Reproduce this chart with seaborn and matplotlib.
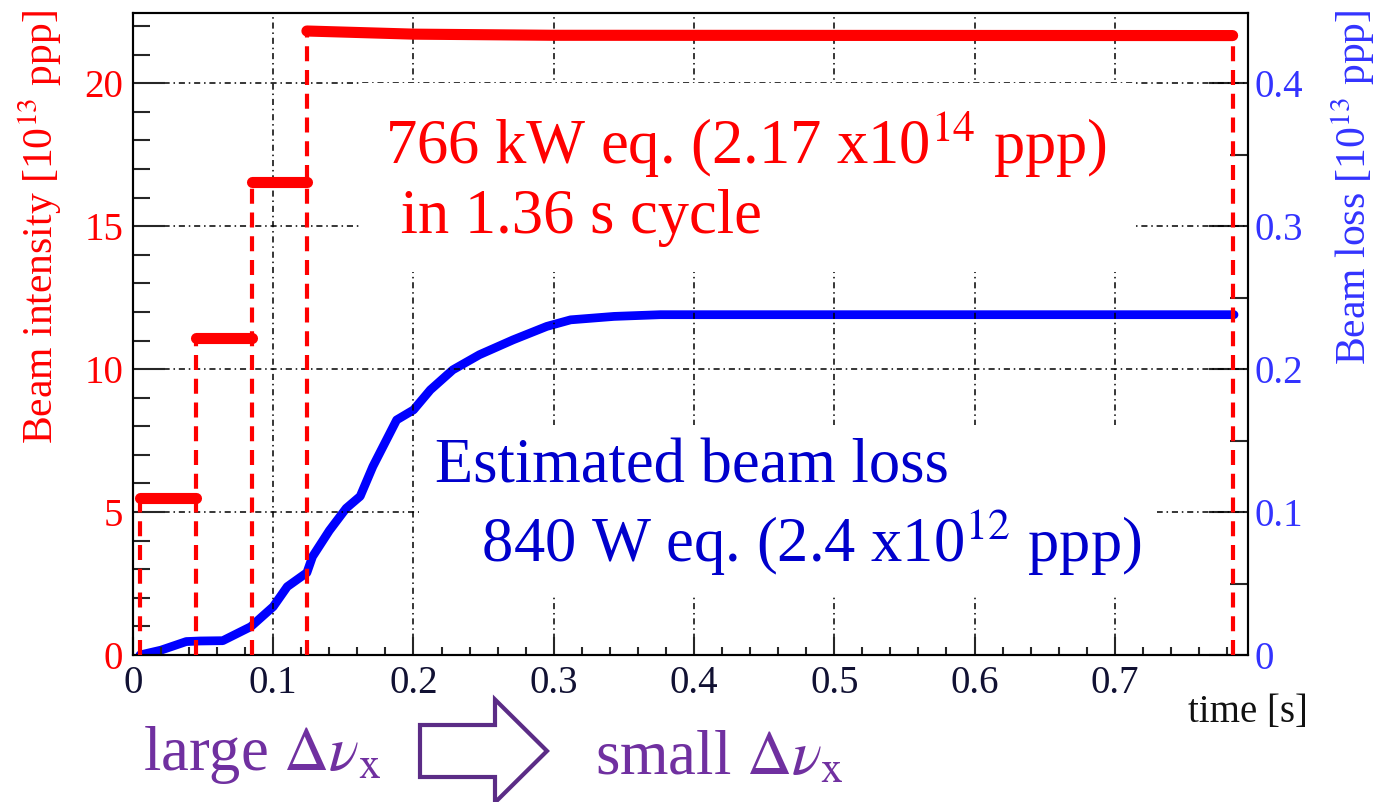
import matplotlib

matplotlib.use("Agg")
import matplotlib.pyplot as plt  # noqa: E402
import pandas as pd  # noqa: E402
import seaborn as sns  # noqa: E402
from matplotlib.patches import FancyArrow  # noqa: E402
from matplotlib.ticker import FuncFormatter, MultipleLocator  # noqa: E402

# beam intensity steps [1e13 ppp] (left axis)
int_step = [1, 1, 2, 2, 3, 3, 4, 4, 4, 4]
int_t = [0.005, 0.045, 0.045, 0.085, 0.085, 0.124, 0.124, 0.200, 0.300, 0.784]
int_val = [5.5, 5.5, 11.1, 11.1, 16.56, 16.56, 21.83, 21.72, 21.68, 21.67]

# red dashed markers at step changes
cut_t = [0.005, 0.045, 0.085, 0.124, 0.784]
cut_top = [5.5, 11.1, 16.56, 21.83, 21.67]

# estimated beam loss [1e13 ppp] (right axis)
loss_t = [0.005, 0.020, 0.038, 0.048, 0.064, 0.084, 0.100, 0.110, 0.124, 0.128,
          0.140, 0.152, 0.162, 0.171, 0.188, 0.200, 0.212, 0.228, 0.247, 0.271,
          0.295, 0.312, 0.343, 0.376, 0.500, 0.650, 0.785]
loss_val = [0.000, 0.0034, 0.0094, 0.0098, 0.0100, 0.0198, 0.0338, 0.0478, 0.0576, 0.0688,
            0.0870, 0.1026, 0.1110, 0.1318, 0.1644, 0.1714, 0.1854, 0.1994, 0.2100, 0.2204,
            0.2298, 0.2344, 0.2368, 0.2380, 0.2380, 0.2380, 0.2380]

int_df = pd.DataFrame({"step": int_step, "t": int_t, "intensity": int_val})
loss_df = pd.DataFrame({"t": loss_t, "loss": loss_val})

sns.set_style("white")
plt.rcParams["font.family"] = ["Liberation Serif", "DejaVu Serif"]
plt.rcParams["mathtext.fontset"] = "stix"

fig = plt.figure(figsize=(13.78, 8.02), dpi=100)
ax = fig.add_axes([0.0965, 0.1833, 0.8092, 0.8005])
ax2 = ax.twinx()
ax.set_zorder(ax2.get_zorder() + 1)
ax.patch.set_visible(False)

sns.lineplot(data=loss_df, x="t", y="loss", ax=ax2, color="#0000ff", lw=6.3,
             estimator=None, sort=False, legend=False, solid_capstyle="round")
sns.lineplot(data=int_df, x="t", y="intensity", units="step", estimator=None,
             sort=False, color="#ff0000", lw=8, solid_capstyle="round",
             legend=False, ax=ax)
ax.vlines(cut_t, 0, cut_top, colors="#ff0000", linestyles=(0, (3.6, 2.1)),
          lw=3, zorder=3)

ax.set_xlim(0, 0.795)
ax.set_ylim(0, 22.46)
ax2.set_ylim(0, 0.449)

ax.grid(True, which="major", color="black", lw=1.1, linestyle=(0, (4, 2.5, 1, 2.5)))
ax2.grid(False)

fmt = FuncFormatter(lambda v, _: "0" if abs(v) < 1e-9 else f"{v:g}")
ax.xaxis.set_major_locator(MultipleLocator(0.1))
ax.xaxis.set_minor_locator(MultipleLocator(0.02))
ax.yaxis.set_major_locator(MultipleLocator(5))
ax.yaxis.set_minor_locator(MultipleLocator(1))
ax2.yaxis.set_major_locator(MultipleLocator(0.1))
ax2.yaxis.set_minor_locator(MultipleLocator(0.05))
ax.xaxis.set_major_formatter(fmt)
ax.yaxis.set_major_formatter(fmt)
ax2.yaxis.set_major_formatter(fmt)

ax.tick_params(axis="x", which="major", direction="in", length=13, width=1.5,
               top=False, bottom=True, labelsize=28, pad=7, labelcolor="#111133")
ax.tick_params(axis="x", which="minor", direction="in", length=6, width=1.5,
               top=False, bottom=True)
ax.tick_params(axis="y", which="major", direction="in", length=23, width=1.5,
               left=True, right=False, labelsize=28, pad=7, labelcolor="#ff0000")
ax.tick_params(axis="y", which="minor", direction="in", length=12, width=1.5,
               left=True, right=False)
ax2.tick_params(axis="y", which="major", direction="in", length=28, width=1.5,
                left=False, right=True, labelsize=28, pad=5, labelcolor="#3333ff")
ax2.tick_params(axis="y", which="minor", direction="in", length=13, width=1.5,
                left=False, right=True)

for a in (ax, ax2):
    for s in a.spines.values():
        s.set_color("black")
        s.set_linewidth(1.5)
        s.set_visible(True)

ax.set_ylabel("Beam intensity [10$^{13}$ ppp]", color="#ff0000", fontsize=30,
              rotation=90, ha="right", va="center", rotation_mode="anchor")
ax.yaxis.set_label_coords(-0.083, 1.005)
ax2.set_ylabel("Beam loss [10$^{13}$ ppp]", color="#3333ff", fontsize=30,
               rotation=90, ha="right", va="center", rotation_mode="anchor")
ax2.yaxis.set_label_coords(1.094, 1.005)
ax.set_xlabel("time [s]", fontsize=28, ha="right", va="center", color="#111111")
ax.xaxis.set_label_coords(1.054, -0.09)

# multi-line text: baseline anchors the last line
red_box = dict(boxstyle="square,pad=0.4", facecolor="white", edgecolor="none")
blue_box = dict(boxstyle="square,pad=0.25", facecolor="white", edgecolor="none")
ax.text(0.18, 14.77, "766 kW eq. (2.17 x10$^{14}$ ppp)\n in 1.36 s cycle",
        color="#ff0000", fontsize=45, va="baseline", linespacing=1.2,
        bbox=red_box, zorder=2.5)
ax.text(0.2154, 3.25, "Estimated beam loss\n   840 W eq. (2.4 x10$^{12}$ ppp)",
        color="#0000cc", fontsize=45, va="baseline", linespacing=1.2,
        bbox=blue_box, zorder=2.5)

purple = "#7030a0"
fig.text(0.1038, 0.040, r"large $\Delta\nu_{\mathrm{x}}$", color=purple,
         fontsize=45, va="baseline")
fig.text(0.4318, 0.0337, r"small $\Delta\nu_{\mathrm{x}}$", color=purple,
         fontsize=45, va="baseline")
arrow = FancyArrow(4.20, 0.51, 1.27, 0, width=0.52, head_width=1.03,
                   head_length=0.52, length_includes_head=True,
                   transform=fig.dpi_scale_trans, facecolor="white",
                   edgecolor="#5b2c86", lw=3)
fig.add_artist(arrow)

fig.savefig("out.png", dpi=100)
plt.close(fig)
